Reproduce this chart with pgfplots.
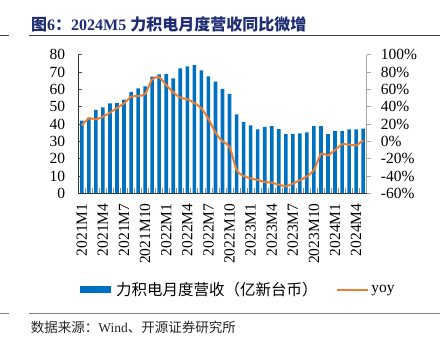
\documentclass[border=0pt]{standalone}
\usepackage{fontspec}
\setmainfont{Liberation Serif}
\newfontfamily\cjk{Noto Sans CJK SC}
\usepackage{pgfplots}
\usepackage{pgfplotstable}
\pgfplotsset{compat=1.18}
\definecolor{barblue}{HTML}{0070C0}
\definecolor{lineor}{HTML}{ED7D31}
\definecolor{titleblue}{RGB}{31,45,115}
\pgfplotstableread{
x rev yoy
0 41.9 18.5
1 43.7 26.5
2 48.1 25.4
3 49.6 28.5
4 51.9 33.0
5 52.1 38.5
6 54.0 43.8
7 58.5 51.5
8 60.6 52.3
9 61.7 54.6
10 67.3 71.5
11 68.7 74.0
12 68.8 65.0
13 66.3 56.5
14 72.1 50.4
15 73.3 48.5
16 74.0 44.2
17 71.0 38.0
18 67.5 26.0
19 64.4 10.0
20 60.2 0.0
21 57.3 -6.2
22 45.6 -33.0
23 41.2 -40.0
24 39.2 -42.7
25 36.9 -44.6
26 38.3 -46.9
27 38.7 -47.7
28 37.1 -50.0
29 34.2 -51.9
30 34.2 -48.8
31 34.6 -45.0
32 35.2 -40.5
33 38.7 -33.0
34 38.8 -14.6
35 34.2 -16.2
36 36.0 -10.0
37 36.0 -3.5
38 36.9 -3.8
39 36.9 -4.6
40 37.3 1.2
}\datatable
\begin{document}
\begin{tikzpicture}
\path[use as bounding box] (0pt,0pt) rectangle (444pt,344pt);
% title and rules
\draw[color=black!75, line width=0.8pt] (0pt,309pt) -- (9pt,309pt) (29pt,309pt) -- (440pt,309pt);
\node[anchor=west, inner sep=0pt, text=titleblue, font=\fontsize{16}{19}\selectfont\bfseries] at (31pt,320pt) {{\cjk 图}6{\cjk ：}2024M5 {\cjk 力积电月度营收同比微增}};
\draw[color=black!50, line width=1.2pt] (0pt,30.7pt) -- (9pt,30.7pt) (29pt,30.7pt) -- (440pt,30.7pt);
\node[anchor=west, inner sep=0pt, text=black!85, font=\fontsize{13.5}{16}\selectfont] at (30.7pt,17pt) {{\cjk 数据来源：}Wind{\cjk 、开源证券研究所}};

\begin{axis}[
  scale only axis, width=288.4pt, height=138.6pt,
  at={(78.3pt,150.7pt)}, anchor=south west,
  xmin=-0.5, xmax=40.5, ymin=0, ymax=80,
  axis x line*=bottom, axis y line*=left,
  axis line style={black!80, line width=0.7pt},
  ytick={0,10,...,80},
  xtick={0,3,...,39},
  xticklabels={2021M1,2021M4,2021M7,2021M10,2022M1,2022M4,2022M7,2022M10,2023M1,2023M4,2023M7,2023M10,2024M1,2024M4},
  minor xtick={-0.5,0.5,...,40.5},
  every major x tick/.append style={draw=none},
  minor tick length=5pt,
  every minor x tick/.append style={black!45, line width=0.8pt},
  major tick length=3.7pt,
  tick align=inside,
  every major y tick/.append style={black!70, line width=0.6pt},
  /pgf/number format/assume math mode=true,
  ticklabel style={font=\fontsize{15.5}{18}\selectfont},
  yticklabel style={inner sep=0pt, anchor=east, xshift=-13pt},
  xticklabel style={rotate=90, anchor=east, inner sep=0pt},
  xticklabel shift=10pt,
  clip=false,
]
\addplot[ybar, bar width=3.6pt, fill=barblue, draw=none] table[x=x, y=rev] {\datatable};
\end{axis}

\begin{axis}[
  scale only axis, width=288.4pt, height=138.6pt,
  at={(78.3pt,150.7pt)}, anchor=south west,
  xmin=-0.5, xmax=40.5, ymin=-60, ymax=100,
  axis x line=none, axis y line*=right,
  axis line style={black!35, line width=0.8pt},
  ytick={-60,-40,...,100},
  tick align=outside,
  major tick length=4pt,
  every major y tick/.append style={black!35, line width=0.8pt},
  /pgf/number format/assume math mode=true,
  ticklabel style={font=\fontsize{15.5}{18}\selectfont},
  yticklabel={\pgfmathprintnumber{\tick}\%},
  yticklabel style={inner sep=0pt, anchor=west, xshift=10pt},
  legend columns=2,
  legend style={draw=none, fill=none, at={(0.555,-0.696)}, anchor=center,
    font=\fontsize{15.5}{18}\selectfont,
    /tikz/every even column/.append style={column sep=16pt}},
]
\addlegendimage{legend image code/.code={\path[draw=none, fill=none] (0pt,-3.5pt) rectangle (34pt,3.5pt); \fill[barblue, draw=none] (0pt,-3.5pt) rectangle (30.7pt,3.5pt);}}
\addlegendentry{\cjk 力积电月度营收（亿新台币）}
\addplot[lineor, line width=2pt, smooth, tension=0.4,
  legend image code/.code={\draw[lineor, line width=2pt] (0pt,0pt) -- (31.6pt,0pt);}]
  table[x=x, y=yoy] {\datatable};
\addlegendentry{yoy}
\end{axis}
\end{tikzpicture}
\end{document}
